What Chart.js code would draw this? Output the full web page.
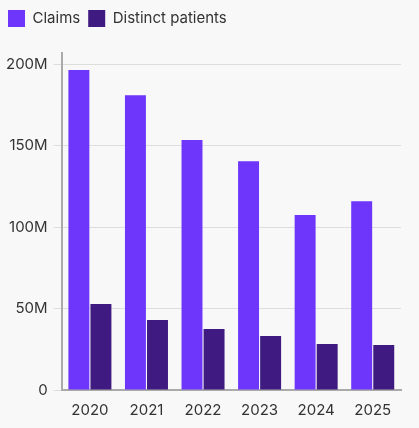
<!DOCTYPE html>
<html>
<head>
<script src="https://cdn.jsdelivr.net/npm/chart.js@4"></script>
<style>
  body { margin: 0; background: #f8f8f8; }
  #wrap { width: 419px; height: 428px; }
</style>
</head>
<body>
<div id="wrap"><canvas id="chart"></canvas></div>
<script>
// data (millions)
const years = ['2020', '2021', '2022', '2023', '2024', '2025'];
const claims = [196.5, 181, 153.5, 140.5, 107.5, 116];
const patients = [52.8, 43, 37.4, 33.1, 28.2, 27.6];
const yTicks = [0, 50, 100, 150, 200];

// extra room under the legend
const legendGap = {
    id: 'legendGap',
    beforeInit(chart) {
        const fit = chart.legend.fit;
        chart.legend.fit = function () {
            fit.call(this);
            this.height += 16;
        };
    }
};

const ctx = document.getElementById('chart').getContext('2d');
new Chart(ctx, {
    type: 'bar',
    data: {
        labels: years,
        datasets: [{
            label: 'Claims',
            data: claims,
            backgroundColor: '#6e36fb'
        }, {
            label: 'Distinct patients',
            data: patients,
            backgroundColor: '#3f1a80'
        }]
    },
    options: {
        responsive: true,
        maintainAspectRatio: false,
        animation: false,
        layout: { padding: { left: 0, right: 18, top: 2, bottom: 6 } },
        datasets: { bar: { categoryPercentage: 0.78, barPercentage: 0.95 } },
        plugins: {
            legend: {
                position: 'top',
                align: 'start',
                labels: {
                    boxWidth: 17, boxHeight: 17, padding: 8,
                    color: '#333', font: { family: 'Inter', size: 15 }
                }
            },
            tooltip: { enabled: false }
        },
        scales: {
            x: {
                grid: { display: false },
                border: { color: '#aaa', width: 2 },
                ticks: { color: '#333', font: { family: 'Inter', size: 15 } }
            },
            y: {
                min: 0, max: 207,
                border: { color: '#aaa', width: 2 },
                grid: { color: '#ddd' },
                afterBuildTicks(axis) {
                    axis.ticks = yTicks.map(v => ({ value: v }));
                },
                ticks: {
                    padding: 6, color: '#333',
                    font: { family: 'Inter', size: 15 },
                    callback: v => v === 0 ? '0' : v + 'M'
                }
            }
        }
    },
    plugins: [legendGap]
});
</script>
</body>
</html>
